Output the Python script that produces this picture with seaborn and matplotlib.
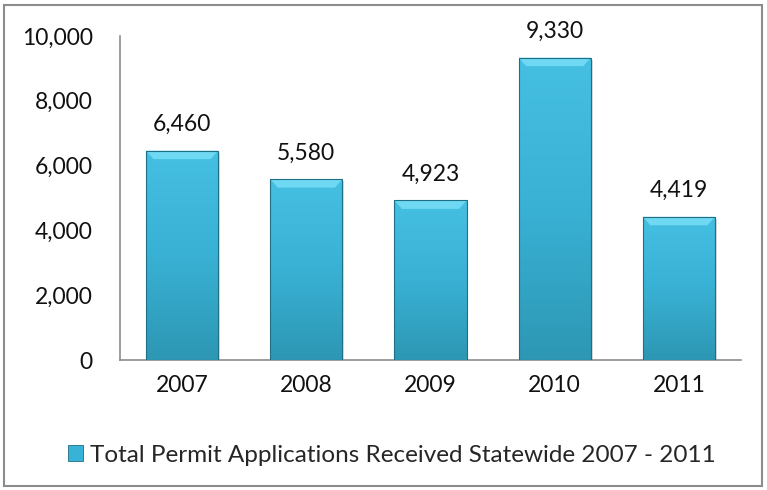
import matplotlib
matplotlib.use("Agg")
import matplotlib.pyplot as plt
import seaborn as sns
import numpy as np
import pandas as pd
from matplotlib.patches import Rectangle, Polygon
from matplotlib.colors import LinearSegmentedColormap

years = ["2007", "2008", "2009", "2010", "2011"]
values = [6460, 5580, 4923, 9330, 4419]
series_name = "Total Permit Applications Received Statewide 2007 - 2011"
yticks = [0, 2000, 4000, 6000, 8000, 10000]

sns.set_style("white")
plt.rcParams['font.family'] = ['Lato', 'DejaVu Sans']
FS = 16.5

df = pd.DataFrame({"year": years, "value": values})

fig = plt.figure(figsize=(7.67, 4.90), dpi=100)
ax = fig.add_axes([120/767, 1 - 360/490, (741-120)/767, (360-36)/490])

sns.barplot(data=df, x="year", y="value", color="#38b2d6", width=0.58,
            saturation=1, ax=ax, edgecolor="none", zorder=2)

cmap = LinearSegmentedColormap.from_list("g", ["#2d97b4", "#39b1d4", "#45bfe2"])
grad = np.linspace(0, 1, 256).reshape(-1, 1)
for p in list(ax.patches):
    x0, y0 = p.get_x(), p.get_y()
    w, h = p.get_width(), p.get_height()
    # shadow
    ax.add_patch(Rectangle((x0 + 0.015, y0 - 70), w, h, facecolor="#c4c4c4", alpha=0.6,
                           zorder=1, edgecolor="none"))
    im = ax.imshow(grad, aspect="auto", cmap=cmap, origin="lower",
                   extent=(x0, x0 + w, y0, y0 + h), zorder=3)
    im.set_clip_path(p)
    # top bevel highlight (trapezoid)
    bh = 260
    inset = 0.06
    ax.add_patch(Polygon([(x0, y0 + h), (x0 + w, y0 + h), (x0 + w - inset, y0 + h - bh),
                          (x0 + inset, y0 + h - bh)], closed=True,
                         facecolor="#6fd8f3", edgecolor="none", zorder=4))
    ax.add_patch(Rectangle((x0, y0), w, h, facecolor="none",
                           edgecolor="#1f6f85", linewidth=0.8, zorder=5))
    ax.text(x0 + w / 2, y0 + h + 480, f"{int(h):,}", ha="center", va="bottom",
            fontsize=FS, color="#111111", zorder=6)

ax.set_xlim(-0.5, 4.5)
ax.set_ylim(0, 10000)
ax.set_yticks(yticks)
ax.set_yticklabels([f"{v:,}" for v in yticks], fontsize=FS)
ax.tick_params(axis="both", length=0, labelsize=FS, colors="#111111")
ax.tick_params(axis="y", pad=19.5)
ax.tick_params(axis="x", pad=11)
ax.set_xlabel("")
ax.set_ylabel("")
for s in ["top", "right"]:
    ax.spines[s].set_visible(False)
for s in ["left", "bottom"]:
    ax.spines[s].set_color("#8c8c8c")
    ax.spines[s].set_linewidth(1.2)

# legend
handle = Rectangle((0, 0), 1, 1, facecolor="#38b2d6", edgecolor="#1f6f85", linewidth=0.6)
fig.legend([handle], [series_name], loc="center", bbox_to_anchor=(392/767, 1 - 455/490),
           frameon=False, fontsize=17.5, handlelength=0.6, handleheight=0.6,
           handletextpad=0.3)

# outer border
fig.add_artist(Rectangle((4/767, 4/490), 1 - 9/767, 1 - 9/490, transform=fig.transFigure,
                         fill=False, edgecolor="#8c8c8c", linewidth=1.5))

fig.savefig("out.png", dpi=100)
